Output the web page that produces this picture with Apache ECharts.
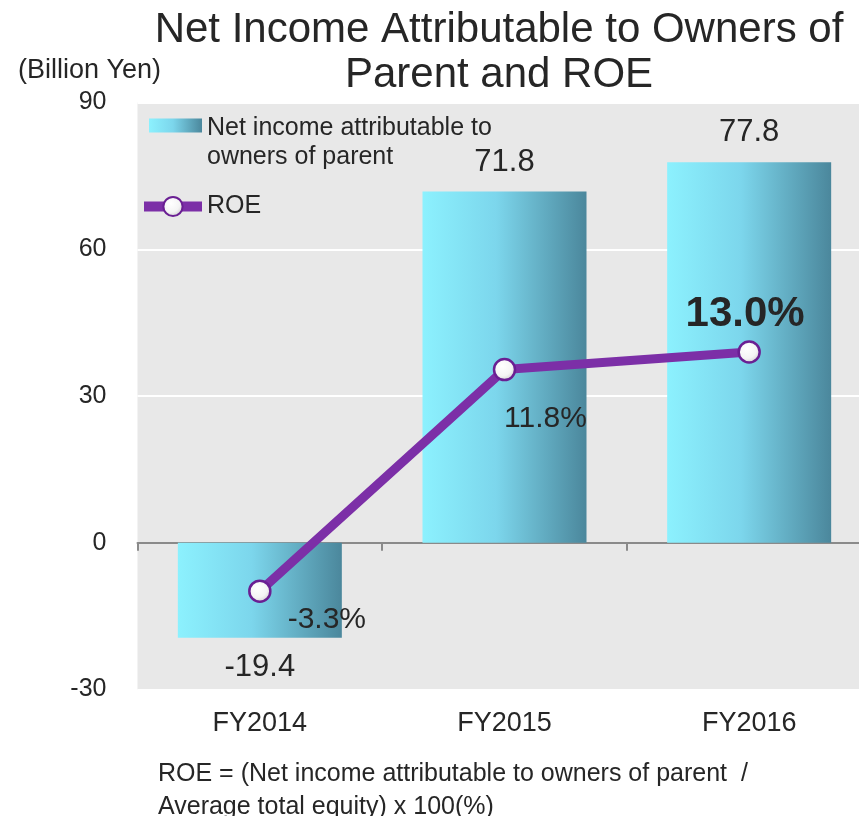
<!DOCTYPE html>
<html>
<head>
<meta charset="utf-8">
<script src="https://cdn.jsdelivr.net/npm/echarts@6/dist/echarts.min.js"></script>
<style>
  html, body { margin: 0; padding: 0; background: #ffffff; }
  #chart { width: 859px; height: 816px; }
</style>
</head>
<body>
<div id="chart"></div>
<script>
// Fiscal years on the category axis
const categories = ['FY2014', 'FY2015', 'FY2016'];
// Net income attributable to owners of parent (billion yen)
const netIncome = [-19.4, 71.8, 77.8];
// Return on equity (%)
const roe = [-3.3, 11.8, 13.0];
// Left axis ticks (billion yen)
const yTicks = [-30, 0, 30, 60, 90];

const barName = 'Net income attributable to\nowners of parent';
const lineName = 'ROE';
const FONT = '"Liberation Sans", Arial, sans-serif';
const TEXT = '#262626';

// label placement around each ROE point
const roeLabelStyle = [
  { offset: [67, 29], fontSize: 30, fontWeight: 'normal' },
  { offset: [41, 49], fontSize: 30, fontWeight: 'normal' },
  { offset: [-4, -38], fontSize: 42, fontWeight: 'bold' }
];

const barGradient = new echarts.graphic.LinearGradient(0, 0, 1, 0, [
  { offset: 0, color: '#8cf1fe' },
  { offset: 0.45, color: '#7cd6ec' },
  { offset: 1, color: '#4b879c' }
]);
const markerFill = new echarts.graphic.RadialGradient(0.4, 0.35, 0.7, [
  { offset: 0, color: '#ffffff' },
  { offset: 0.6, color: '#f4f4f4' },
  { offset: 1, color: '#c8c8c8' }
]);

// legend swatch for the bars: a 53x14 block sitting at the top of a taller box,
// so it lines up with the first line of the two-line legend text
const barLegendIcon = 'path://M0,0h53v14h-53zM0,49';

const chart = echarts.init(document.getElementById('chart'), null, { renderer: 'canvas' });

chart.setOption({
  animation: false,
  textStyle: { fontFamily: FONT },
  graphic: [
    {
      type: 'text',
      x: 499, y: 8,
      style: {
        text: 'Net Income Attributable to Owners of\nParent and ROE',
        align: 'center', verticalAlign: 'top',
        font: '42px ' + FONT, lineHeight: 45, fill: TEXT
      }
    },
    {
      type: 'text',
      x: 18, y: 57,
      style: { text: '(Billion Yen)', font: '27px ' + FONT, fill: TEXT }
    },
    {
      type: 'text',
      x: 158, y: 758,
      style: {
        text: 'ROE = (Net income attributable to owners of parent  /\nAverage total equity) x 100(%)',
        font: '25px ' + FONT, lineHeight: 33, fill: TEXT
      }
    }
  ],
  legend: [
    {
      data: [{ name: barName, icon: barLegendIcon }],
      orient: 'vertical',
      left: 149, top: 114,
      padding: 0,
      itemWidth: 53, itemHeight: 49,
      textStyle: { fontSize: 25, color: TEXT, lineHeight: 29 }
    },
    {
      data: [lineName],
      orient: 'vertical',
      left: 139, top: 194,
      padding: 0,
      itemWidth: 58, itemHeight: 24,
      lineStyle: { width: 10 },
      textStyle: { fontSize: 25, color: TEXT }
    }
  ],
  grid: {
    left: 137.5, top: 102.5, width: 734, height: 587,
    outerBoundsMode: 'none',
    show: true, backgroundColor: '#e8e8e8', borderWidth: 0,
    containLabel: false
  },
  xAxis: [
    {
      type: 'category', data: categories, position: 'bottom',
      axisLine: { show: false, onZero: false },
      axisTick: { show: false },
      axisLabel: { fontSize: 27, color: TEXT, margin: 21 }
    },
    {
      type: 'category', data: categories, position: 'top',
      axisLine: { show: true, onZero: true, lineStyle: { color: '#8a8a8a', width: 2 } },
      axisTick: { show: true, inside: true, length: 8, lineStyle: { color: '#8a8a8a', width: 2 } },
      axisLabel: { show: false }
    }
  ],
  yAxis: [
    {
      type: 'value',
      min: yTicks[0], max: yTicks[yTicks.length - 1], interval: 30,
      axisLine: { show: false }, axisTick: { show: false },
      axisLabel: { fontSize: 25, color: TEXT, margin: 31 },
      splitLine: { lineStyle: { color: '#ffffff', width: 2 } }
    },
    {
      type: 'value', min: -10, max: 30, show: false,
      splitLine: { show: false }
    }
  ],
  series: [
    {
      name: barName,
      type: 'bar',
      xAxisIndex: 0, yAxisIndex: 0,
      barWidth: 164,
      itemStyle: { color: barGradient },
      label: { show: true, position: 'top', distance: 14, fontSize: 31, color: TEXT },
      data: netIncome.map(v => ({
        value: v,
        label: { position: v < 0 ? 'bottom' : 'top' }
      })),
      z: 2
    },
    {
      name: lineName,
      type: 'line',
      xAxisIndex: 0, yAxisIndex: 1,
      symbol: 'circle', symbolSize: 21,
      lineStyle: { color: '#7c2fa7', width: 9 },
      itemStyle: { color: markerFill, borderColor: '#6a1f93', borderWidth: 2.5 },
      label: {
        show: true, position: 'inside', color: TEXT,
        formatter: p => p.value.toFixed(1) + '%'
      },
      data: roe.map((v, i) => ({
        value: v,
        label: roeLabelStyle[i]
      })),
      z: 5
    }
  ]
});
</script>
</body>
</html>
